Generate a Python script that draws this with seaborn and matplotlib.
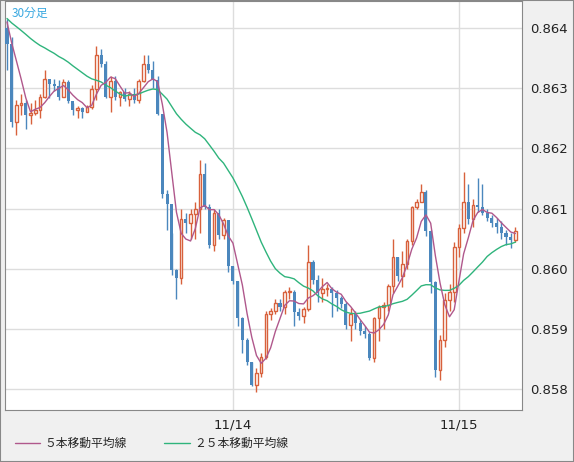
import numpy as np
import pandas as pd
import matplotlib
matplotlib.use('Agg')
import matplotlib.pyplot as plt
from matplotlib.lines import Line2D
import seaborn as sns

# 30-minute candles, 11/13 evening .. 11/15 morning
prior_close = [0.86430, 0.86425, 0.86432, 0.86420, 0.86428, 0.86415, 0.86422, 0.86418,
               0.86425, 0.86412, 0.86420, 0.86415, 0.86408, 0.86418, 0.86410, 0.86405,
               0.86412, 0.86408, 0.86415, 0.86410, 0.86418, 0.86420, 0.86425, 0.86415]
first_open = 0.86400
close = [0.86373, 0.86243, 0.86272, 0.86275, 0.86256, 0.86258, 0.86264, 0.86286, 0.86315, 0.86307,
         0.86304, 0.86286, 0.86311, 0.86278, 0.86263, 0.86267, 0.86261, 0.86269, 0.86298, 0.86355,
         0.86341, 0.86286, 0.86312, 0.86286, 0.86293, 0.86282, 0.86290, 0.86280, 0.86312, 0.86341,
         0.86331, 0.86314, 0.86257, 0.86124, 0.86107, 0.85997, 0.85984, 0.86082, 0.86076, 0.86091,
         0.86099, 0.86157, 0.86103, 0.86040, 0.86092, 0.86056, 0.86081, 0.86004, 0.85979, 0.85918,
         0.85882, 0.85844, 0.85807, 0.85827, 0.85853, 0.85924, 0.85930, 0.85943, 0.85936, 0.85962,
         0.85962, 0.85928, 0.85922, 0.85933, 0.86011, 0.85981, 0.85960, 0.85966, 0.85967, 0.85960,
         0.85952, 0.85942, 0.85906, 0.85925, 0.85909, 0.85896, 0.85891, 0.85851, 0.85918, 0.85936,
         0.85940, 0.85971, 0.86019, 0.85988, 0.86008, 0.86046, 0.86102, 0.86110, 0.86127, 0.86062,
         0.85977, 0.85831, 0.85882, 0.85948, 0.85962, 0.86036, 0.86067, 0.86110, 0.86082, 0.86106,
         0.86102, 0.86092, 0.86085, 0.86076, 0.86070, 0.86059, 0.86053, 0.86047, 0.86063]
high = [0.86415, 0.86385, 0.86280, 0.86290, 0.86280, 0.86275, 0.86280, 0.86290, 0.86330, 0.86316,
        0.86315, 0.86313, 0.86316, 0.86313, 0.86275, 0.86270, 0.86268, 0.86272, 0.86305, 0.86370,
        0.86365, 0.86345, 0.86320, 0.86320, 0.86296, 0.86300, 0.86296, 0.86300, 0.86315, 0.86355,
        0.86355, 0.86345, 0.86320, 0.86257, 0.86130, 0.86060, 0.86000, 0.86100, 0.86092, 0.86100,
        0.86110, 0.86180, 0.86175, 0.86107, 0.86100, 0.86100, 0.86085, 0.86075, 0.86005, 0.85980,
        0.85920, 0.85885, 0.85845, 0.85835, 0.85860, 0.85930, 0.85935, 0.85950, 0.85950, 0.85965,
        0.85970, 0.85965, 0.85935, 0.85936, 0.86040, 0.86015, 0.85990, 0.85985, 0.85975, 0.85970,
        0.85965, 0.85955, 0.85945, 0.85935, 0.85930, 0.85915, 0.85905, 0.85895, 0.85920, 0.85940,
        0.85945, 0.85975, 0.86050, 0.86020, 0.86030, 0.86050, 0.86105, 0.86115, 0.86140, 0.86130,
        0.86065, 0.85980, 0.85890, 0.85960, 0.85975, 0.86045, 0.86075, 0.86160, 0.86140, 0.86115,
        0.86150, 0.86140, 0.86100, 0.86090, 0.86085, 0.86080, 0.86065, 0.86060, 0.86070]
low = [0.86330, 0.86235, 0.86222, 0.86255, 0.86232, 0.86240, 0.86255, 0.86250, 0.86283, 0.86283,
       0.86295, 0.86280, 0.86300, 0.86275, 0.86255, 0.86250, 0.86250, 0.86262, 0.86265, 0.86280,
       0.86335, 0.86283, 0.86260, 0.86280, 0.86270, 0.86278, 0.86270, 0.86275, 0.86275, 0.86310,
       0.86325, 0.86300, 0.86255, 0.86118, 0.86065, 0.85990, 0.85950, 0.85975, 0.86060, 0.86050,
       0.86050, 0.86060, 0.86100, 0.86035, 0.86030, 0.86050, 0.86050, 0.85995, 0.85975, 0.85905,
       0.85860, 0.85840, 0.85805, 0.85795, 0.85820, 0.85850, 0.85915, 0.85925, 0.85930, 0.85925,
       0.85950, 0.85905, 0.85915, 0.85910, 0.85930, 0.85975, 0.85945, 0.85945, 0.85955, 0.85920,
       0.85930, 0.85935, 0.85900, 0.85880, 0.85900, 0.85890, 0.85885, 0.85848, 0.85845, 0.85880,
       0.85900, 0.85930, 0.85960, 0.85980, 0.85970, 0.86000, 0.86040, 0.86100, 0.86110, 0.86055,
       0.85960, 0.85820, 0.85815, 0.85870, 0.85930, 0.85945, 0.86020, 0.86060, 0.86075, 0.86070,
       0.86095, 0.86090, 0.86080, 0.86070, 0.86060, 0.86050, 0.86040, 0.86035, 0.86045]
open_ = [first_open] + close[:-1]
tick_pos = [48, 96]
tick_labels = ['11/14', '11/15']
y_ticks = [0.858, 0.859, 0.860, 0.861, 0.862, 0.863, 0.864]

df = pd.DataFrame({'i': np.arange(len(close)), 'open': open_, 'high': high,
                   'low': low, 'close': close})
allc = pd.Series(prior_close + close)
df['ma5'] = allc.rolling(5).mean().values[len(prior_close):]
df['ma25'] = allc.rolling(25).mean().values[len(prior_close):]

sns.set_style('white')
plt.rcParams['font.family'] = ['DejaVu Sans', 'Noto Sans CJK JP']

RED = '#d8613c'
BLUE = '#4b87bd'
fig = plt.figure(figsize=(5.74, 4.62), dpi=100, facecolor='#f0f0f0')
ax = fig.add_axes([5 / 574, 1 - 410 / 462, 517 / 574, 409 / 462])
ax.set_facecolor('white')

up = df['close'] >= df['open']
for sub, col in [(df[up], RED), (df[~up], BLUE)]:
    ax.vlines(sub['i'], sub['low'], sub['high'], color=col, lw=1, zorder=2)
ax.bar(df.loc[up, 'i'], (df.loc[up, 'close'] - df.loc[up, 'open']).clip(lower=0.000015),
       bottom=df.loc[up, 'open'], width=0.55, facecolor='white', edgecolor=RED, lw=1, zorder=3)
ax.bar(df.loc[~up, 'i'], df.loc[~up, 'open'] - df.loc[~up, 'close'],
       bottom=df.loc[~up, 'close'], width=0.65, color=BLUE, lw=0, zorder=3)

sns.lineplot(data=df, x='i', y='ma25', color='#2fb47c', lw=1, ax=ax, zorder=4)
sns.lineplot(data=df, x='i', y='ma5', color='#b0588c', lw=1, ax=ax, zorder=4)

ax.set_xlim(-0.42, 109.4)
ax.set_ylim(0.85765, 0.86445)
ax.set_xticks(tick_pos)
ax.set_xticklabels(tick_labels)
ax.set_yticks(y_ticks)
ax.set_yticklabels([f'{v:.3f}' for v in y_ticks])
ax.yaxis.tick_right()
ax.tick_params(length=0, labelsize=9.5, colors='#222222', pad=6)
ax.grid(True, color='#dddddd', lw=1)
ax.set_axisbelow(True)
ax.set_xlabel('')
ax.set_ylabel('')
for s in ax.spines.values():
    s.set_color('#888888')
ax.text(0.012, 0.985, '30分足', transform=ax.transAxes, ha='left', va='top',
        color='#3aa8e0', fontsize=8.5, family=['Noto Sans CJK JP'])

# legend strip at the bottom
y_leg = 1 - 443 / 462
fig.add_artist(Line2D([15 / 574, 40 / 574], [y_leg, y_leg], color='#b0588c', lw=1))
fig.text(44 / 574, y_leg, '５本移動平均線', va='center', fontsize=8.5, family=['Noto Sans CJK JP'])
fig.add_artist(Line2D([164 / 574, 190 / 574], [y_leg, y_leg], color='#2fb47c', lw=1))
fig.text(194 / 574, y_leg, '２５本移動平均線', va='center', fontsize=8.5, family=['Noto Sans CJK JP'])
fig.add_artist(plt.Rectangle((0, 0), 1, 1, transform=fig.transFigure, fill=False,
                             edgecolor='#888888', lw=1.5))

fig.savefig('out.png', dpi=100, facecolor=fig.get_facecolor())
